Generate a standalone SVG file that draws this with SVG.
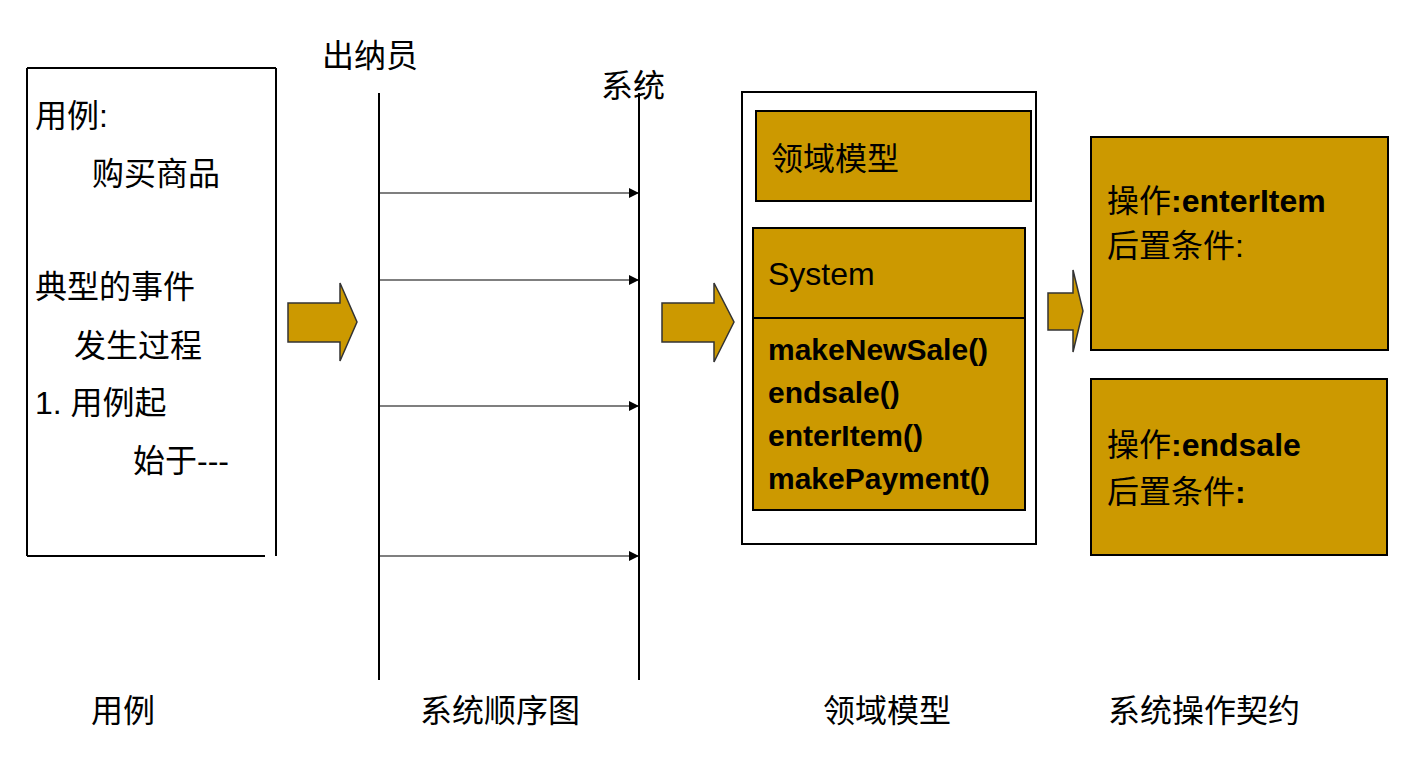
<svg xmlns="http://www.w3.org/2000/svg" width="1412" height="757" viewBox="0 0 1412 757">
<style>
text{font-family:"Liberation Sans","Noto Sans CJK SC",sans-serif;font-size:32px;fill:#000}
.b{font-weight:bold}
.m{font-weight:bold;font-size:30px}
.ln{stroke:#000;stroke-width:2;fill:none}
.box{fill:#CC9900;stroke:#000;stroke-width:2}
.arr{fill:#CC9900;stroke:#333;stroke-width:1.5}
.msg{stroke:#000;stroke-width:1.2}
</style>
<defs><marker id="ah" viewBox="0 0 10 10" refX="10" refY="5" markerWidth="10" markerHeight="10" markerUnits="userSpaceOnUse" orient="auto"><path d="M0,0L10,5L0,10z" fill="#000"/></marker></defs>
<rect width="1412" height="757" fill="#fff"/>
<g id="usecase">
<path class="ln" d="M27,68H276M27,68V556M276,68V556M27,556H265"/>
<text x="35" y="127">用例:</text>
<text x="92" y="185">购买商品</text>
<text x="35" y="298">典型的事件</text>
<text x="74" y="357">发生过程</text>
<text x="35" y="414">1. 用例起</text>
<text x="133" y="472">始于---</text>
</g>
<g id="arrows">
<path class="arr" d="M288,303H340V283L357,322L340,361V342H288Z"/>
<path class="arr" d="M662,303H714V283L734,322L714,362V342H662Z"/>
<path class="arr" d="M1048,293H1073V270L1083,311L1073,352V330H1048Z"/>
</g>
<g id="ssd">
<text x="322" y="67">出纳员</text>
<text x="601" y="97">系统</text>
<line class="ln" x1="379" y1="93" x2="379" y2="680"/>
<line class="ln" x1="639" y1="93" x2="639" y2="680"/>
</g>
<g id="connectors">
<line class="msg" x1="379" y1="193" x2="639" y2="193" marker-end="url(#ah)"/>
<line class="msg" x1="379" y1="280" x2="639" y2="280" marker-end="url(#ah)"/>
<line class="msg" x1="379" y1="406" x2="639" y2="406" marker-end="url(#ah)"/>
<line class="msg" x1="379" y1="556" x2="639" y2="556" marker-end="url(#ah)"/>
</g>
<g id="domain">
<rect class="ln" x="742" y="92" width="294" height="452"/>
<rect class="box" x="756" y="111" width="275" height="90"/>
<text x="771" y="170">领域模型</text>
<rect class="box" x="753" y="228" width="272" height="90"/>
<text x="768" y="285">System</text>
<rect class="box" x="753" y="318" width="272" height="192"/>
<text class="m" x="768" y="360">makeNewSale()</text>
<text class="m" x="768" y="403">endsale()</text>
<text class="m" x="768" y="446">enterItem()</text>
<text class="m" x="768" y="489">makePayment()</text>
</g>
<g id="contract1">
<rect class="box" x="1091" y="137" width="297" height="213"/>
<text x="1107" y="212">操作<tspan class="b">:enterItem</tspan></text>
<text x="1107" y="257">后置条件:</text>
</g>
<g id="contract2">
<rect class="box" x="1091" y="379" width="296" height="176"/>
<text x="1107" y="456">操作<tspan class="b">:endsale</tspan></text>
<text x="1107" y="503">后置条件<tspan class="b">:</tspan></text>
</g>
<g id="labels">
<text x="91" y="722">用例</text>
<text x="420" y="722">系统顺序图</text>
<text x="823" y="722">领域模型</text>
<text x="1108" y="722">系统操作契约</text>
</g>
</svg>
